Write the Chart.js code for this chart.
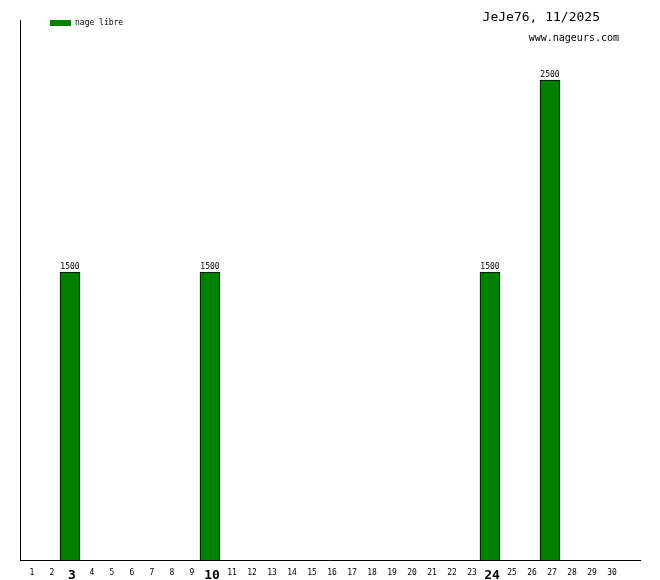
<!DOCTYPE html>
<html><head><meta charset="utf-8">
<script src="https://cdn.jsdelivr.net/npm/chart.js@4.4.1/dist/chart.umd.min.js"></script>
<style>html,body{margin:0;padding:0;background:#fff}canvas{display:block}</style>
</head><body>
<canvas id="c" width="660" height="580"></canvas>
<script>
const dayLabels = ['1','2','3','4','5','6','7','8','9','10','11','12','13','14','15','16','17','18','19','20','21','22','23','24','25','26','27','28','29','30',''];
const seriesName = 'nage libre';
const distances = [null,null,1500,null,null,null,null,null,null,1500,null,null,null,null,null,null,null,null,null,null,null,null,null,1500,null,null,2500,null,null,null,null];
const swimDays = ['3','10','24'];
const titleText = 'JeJe76, 11/2025';
const siteText = 'www.nageurs.com';
const FONT = '"DejaVu Sans Mono", "Liberation Mono", monospace';

const overlay = {
  id: 'overlay',
  afterDatasetsDraw(chart) {
    const ctx = chart.ctx;
    const meta = chart.getDatasetMeta(0);
    ctx.save();
    ctx.fillStyle = '#000';
    ctx.font = '8px ' + FONT;
    ctx.textAlign = 'center';
    ctx.textBaseline = 'bottom';
    meta.data.forEach((bar, i) => {
      const v = distances[i];
      if (v == null) return;
      ctx.fillText(String(v), bar.x, bar.y - 1);
    });
    // legend
    ctx.fillStyle = '#008000';
    ctx.fillRect(50, 20, 21, 6);
    ctx.fillStyle = '#000';
    ctx.textAlign = 'left';
    ctx.textBaseline = 'middle';
    ctx.font = '8px ' + FONT;
    ctx.fillText(seriesName, 75, 23);
    // title
    ctx.font = '13px ' + FONT;
    ctx.textAlign = 'right';
    ctx.fillText(titleText, 600, 18);
    ctx.font = '10px ' + FONT;
    ctx.fillText(siteText, 619, 38);
    ctx.restore();
  }
};

new Chart(document.getElementById('c'), {
  type: 'bar',
  data: {
    labels: dayLabels,
    datasets: [{
      label: seriesName,
      data: distances,
      backgroundColor: '#008000',
      borderColor: '#000',
      borderWidth: 1,
      barPercentage: 1,
      categoryPercentage: 1
    }]
  },
  options: {
    responsive: false,
    animation: false,
    devicePixelRatio: 1,
    layout: { padding: { left: 20, top: 20, right: 20, bottom: 0 } },
    plugins: { legend: { display: false }, tooltip: { enabled: false } },
    scales: {
      x: {
        grid: { display: false, drawTicks: false },
        border: { display: true, color: '#000', width: 1 },
        ticks: {
          color: '#000',
          padding: 8,
          labelOffset: 2,
          maxRotation: 0,
          autoSkip: false,
          font: (c) => {
            const l = dayLabels[c.index];
            return swimDays.includes(l) ? { family: FONT, size: 13, weight: 'bold' } : { family: FONT, size: 8 };
          }
        },
        afterFit: (s) => { s.height = 20; }
      },
      y: {
        min: 0, max: 2812.5,
        grid: { display: false, drawTicks: false },
        border: { display: true, color: '#000', width: 1 },
        ticks: { display: false },
        afterFit: (s) => { s.width = 0; }
      }
    }
  },
  plugins: [overlay]
});
</script>
</body></html>
